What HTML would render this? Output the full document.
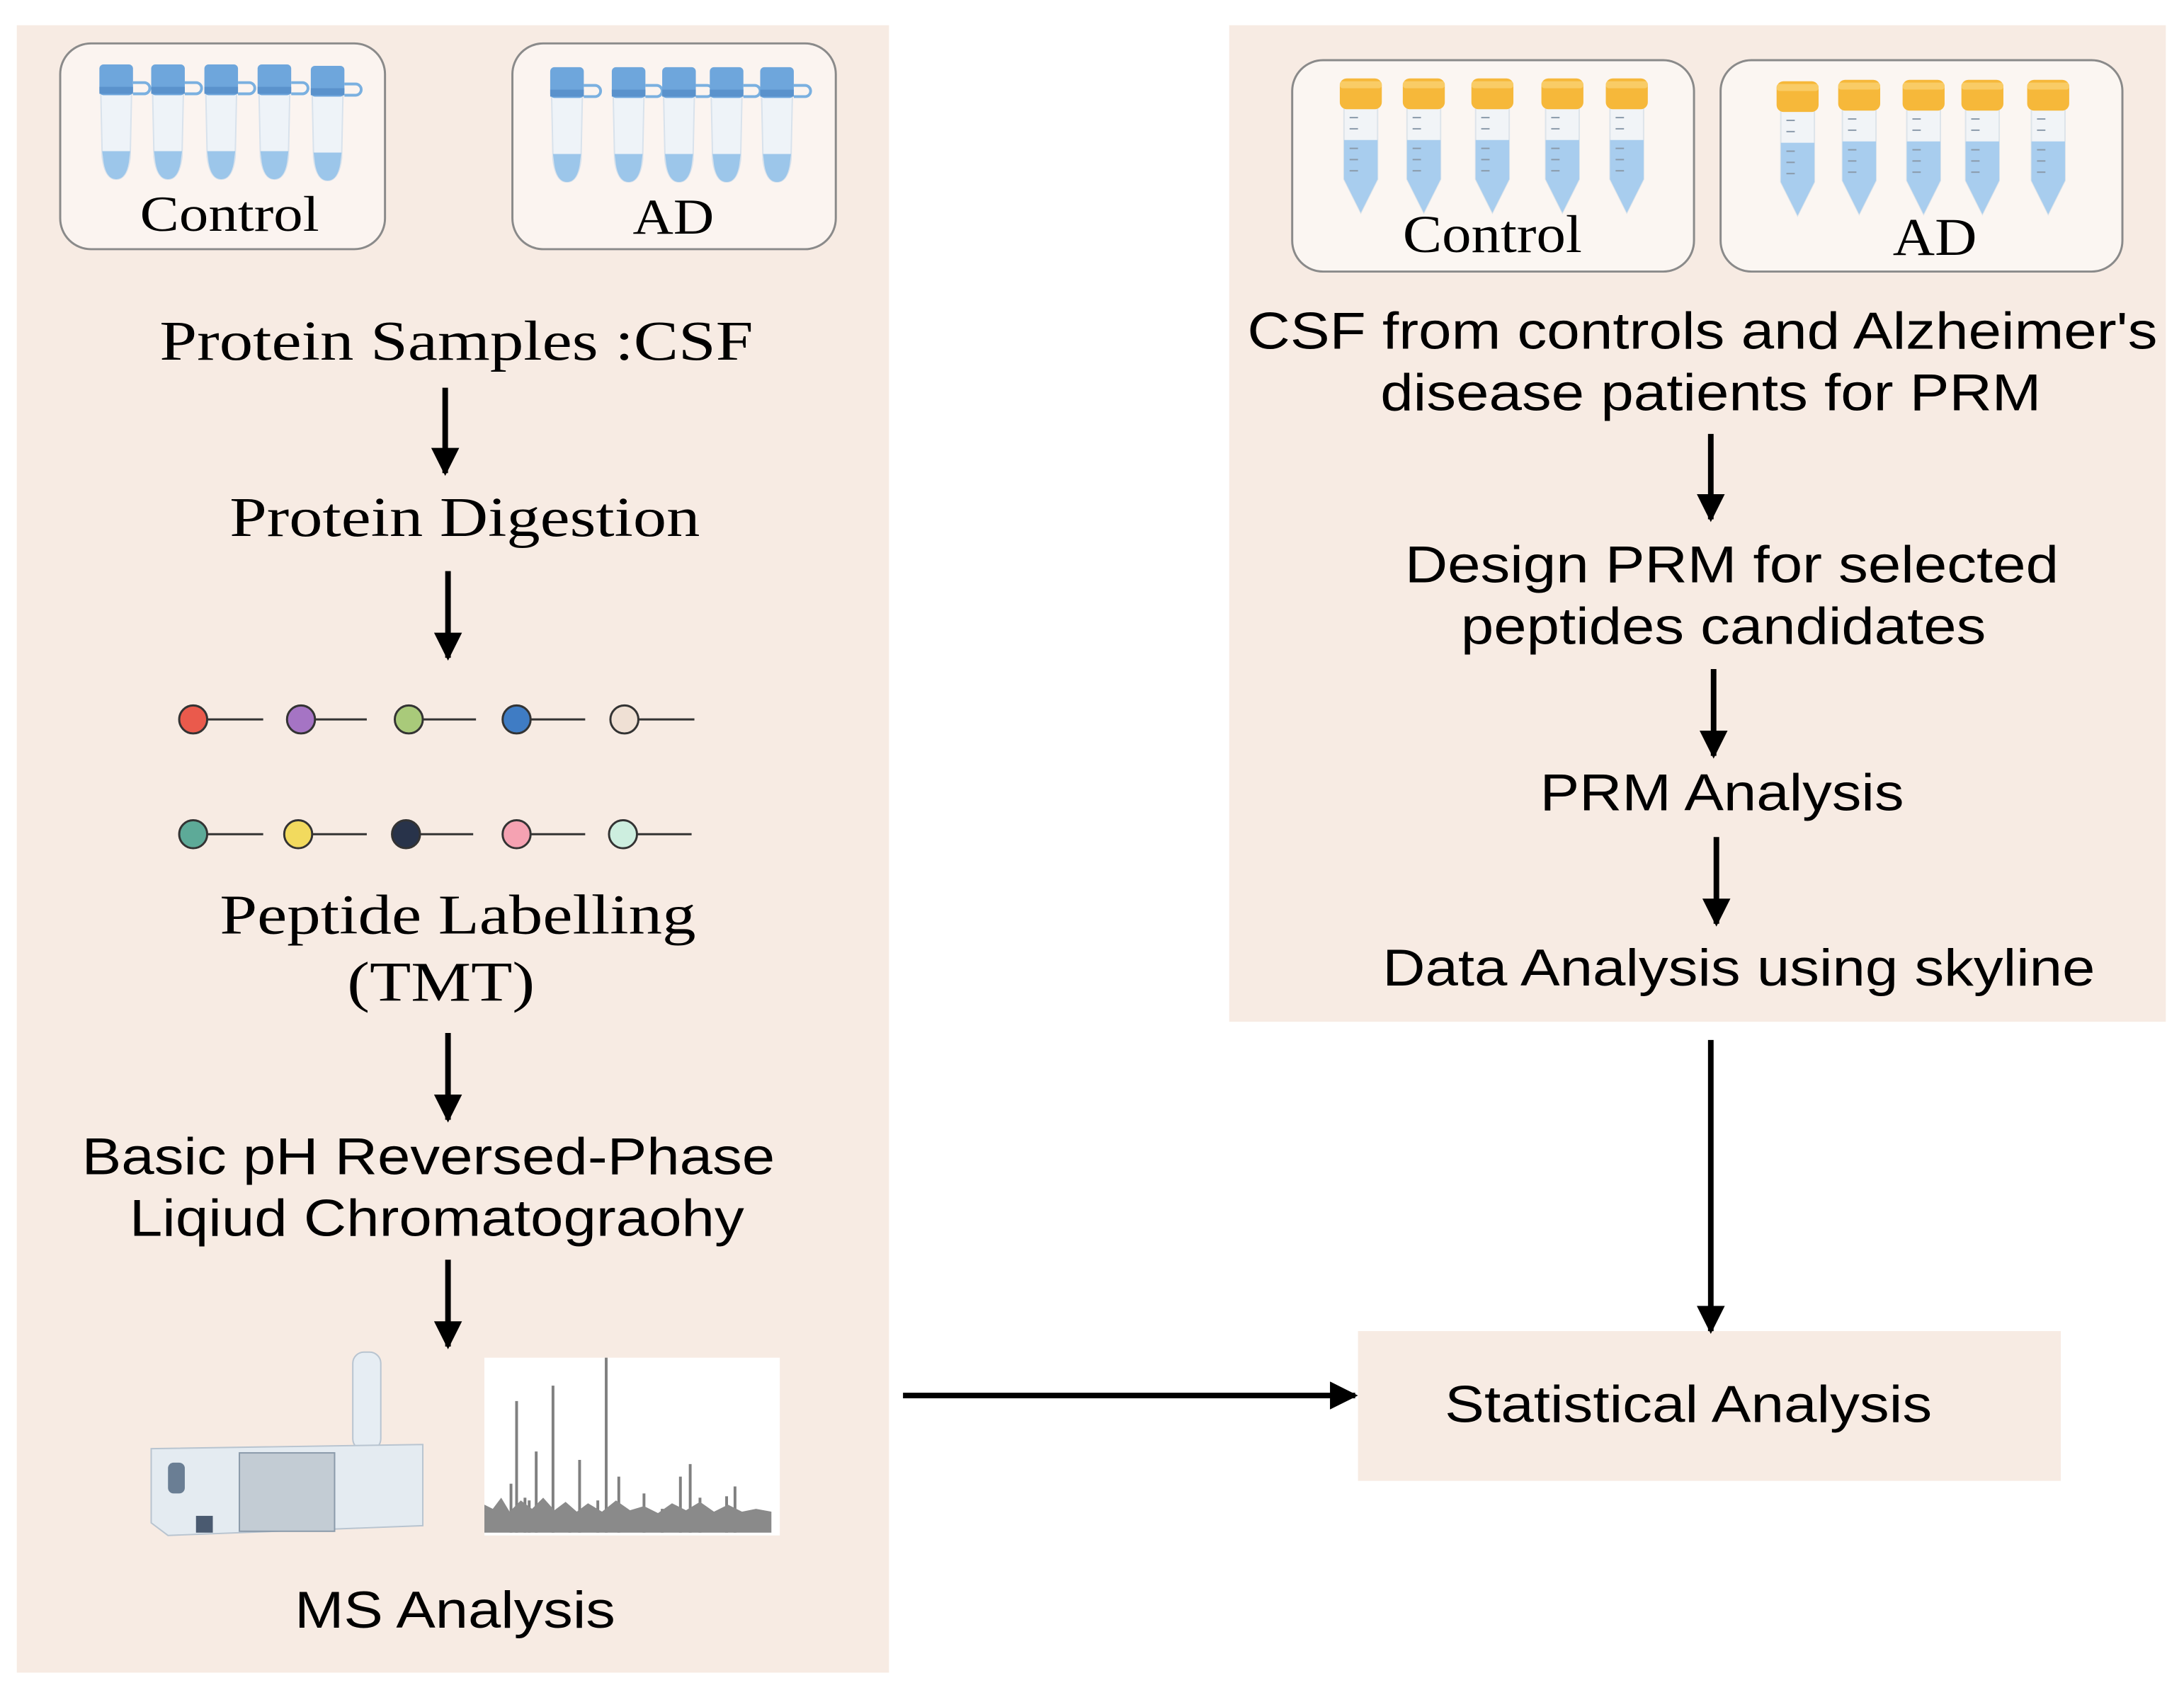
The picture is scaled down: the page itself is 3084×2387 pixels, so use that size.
<!DOCTYPE html>
<html><head><meta charset="utf-8"><style>
html,body{margin:0;padding:0;background:#fff;}
svg{display:block;}
.s{font-family:"Liberation Serif",serif;fill:#000;}
.a{font-family:"Liberation Sans",sans-serif;fill:#000;}
</style></head><body>
<svg width="3084" height="2387" viewBox="0 0 1560 1207.4" xmlns="http://www.w3.org/2000/svg">
<defs>
<marker id="ah" viewBox="0 0 10 10" refX="9" refY="5" markerWidth="5" markerHeight="5" orient="auto" markerUnits="strokeWidth">
<path d="M0,0 L10,5 L0,10 z" fill="#000"/></marker>
<g id="tube">
<path d="M-11,20 L11,20 L10,66 Q8,82 0,82 Q-8,82 -10,66 Z" fill="#eef3f8" stroke="#d8e2ec" stroke-width="1"/>
<path d="M-10,62 L10,62 L9,70 Q7,82 0,82 Q-7,82 -9,70 Z" fill="#9cc6ea"/>
<rect x="-12" y="0" width="24" height="22" rx="3" fill="#6ea6dc"/>
<rect x="-12" y="16" width="24" height="5" fill="#5a92cc"/>
<path d="M12,13 h8 a4,4 0 0 1 0,8 h-8" fill="none" stroke="#7ab0e0" stroke-width="2"/>
</g>
<g id="falcon">
<path d="M-12,20 L12,20 L12,72 L0,96 L-12,72 Z" fill="#f1f4f7" stroke="#dde4ea" stroke-width="1"/>
<path d="M-12,44 L12,44 L12,72 L0,96 L-12,72 Z" fill="#a8cdee"/>
<rect x="-15" y="0" width="30" height="22" rx="5" fill="#f6b83a"/>
<rect x="-15" y="2" width="30" height="5" rx="2" fill="#f9cc66"/>
<g stroke="#8a9aaa" stroke-width="1"><line x1="-8" y1="28" x2="-2" y2="28"/><line x1="-8" y1="36" x2="-2" y2="36"/><line x1="-8" y1="50" x2="-2" y2="50"/><line x1="-8" y1="58" x2="-2" y2="58"/><line x1="-8" y1="66" x2="-2" y2="66"/></g>
</g>
</defs>
<rect width="1560" height="1207.4" fill="#fff"/>
<rect x="12" y="18" width="623" height="1177" fill="#f7ebe3"/>
<rect x="878" y="18" width="669" height="712" fill="#f7ebe3"/>
<rect x="970" y="951" width="502" height="107" fill="#f7ebe3"/>

<rect x="43" y="31" width="232" height="147" rx="22" fill="#fbf4f0" stroke="#8a8a8a" stroke-width="1.5"/>
<rect x="366" y="31" width="231" height="147" rx="22" fill="#fbf4f0" stroke="#8a8a8a" stroke-width="1.5"/>
<use href="#tube" x="83" y="46"/><use href="#tube" x="120" y="46"/><use href="#tube" x="158" y="46"/><use href="#tube" x="196" y="46"/><use href="#tube" x="234" y="47"/>
<use href="#tube" x="405" y="48"/><use href="#tube" x="449" y="48"/><use href="#tube" x="485" y="48"/><use href="#tube" x="519" y="48"/><use href="#tube" x="555" y="48"/>
<text class="s" x="164" y="165" font-size="36" text-anchor="middle" textLength="128" lengthAdjust="spacingAndGlyphs">Control</text>
<text class="s" x="481" y="167" font-size="36" text-anchor="middle" textLength="58" lengthAdjust="spacingAndGlyphs">AD</text>

<rect x="923" y="43" width="287" height="151" rx="22" fill="#fbf6f2" stroke="#8a8a8a" stroke-width="1.5"/>
<rect x="1229" y="43" width="287" height="151" rx="22" fill="#fbf6f2" stroke="#8a8a8a" stroke-width="1.5"/>
<use href="#falcon" x="972" y="56"/><use href="#falcon" x="1017" y="56"/><use href="#falcon" x="1066" y="56"/><use href="#falcon" x="1116" y="56"/><use href="#falcon" x="1162" y="56"/>
<use href="#falcon" x="1284" y="58"/><use href="#falcon" x="1328" y="57"/><use href="#falcon" x="1374" y="57"/><use href="#falcon" x="1416" y="57"/><use href="#falcon" x="1463" y="57"/>
<text class="s" x="1066" y="180" font-size="38" text-anchor="middle" textLength="128" lengthAdjust="spacingAndGlyphs">Control</text>
<text class="s" x="1382" y="182" font-size="38" text-anchor="middle" textLength="60" lengthAdjust="spacingAndGlyphs">AD</text>

<text class="s" x="326" y="257" font-size="40" text-anchor="middle" textLength="424" lengthAdjust="spacingAndGlyphs">Protein Samples :CSF</text>
<text class="s" x="332" y="383" font-size="40" text-anchor="middle" textLength="336" lengthAdjust="spacingAndGlyphs">Protein Digestion</text>
<text class="s" x="327" y="667" font-size="40" text-anchor="middle" textLength="340" lengthAdjust="spacingAndGlyphs">Peptide Labelling</text>
<text class="s" x="315" y="715" font-size="40" text-anchor="middle" textLength="134" lengthAdjust="spacingAndGlyphs">(TMT)</text>
<text class="a" x="306" y="839" font-size="37" text-anchor="middle" textLength="495" lengthAdjust="spacingAndGlyphs">Basic pH Reversed-Phase</text>
<text class="a" x="312" y="883" font-size="37" text-anchor="middle" textLength="439" lengthAdjust="spacingAndGlyphs">Liqiud Chromatograohy</text>
<text class="a" x="325" y="1163" font-size="37" text-anchor="middle" textLength="229" lengthAdjust="spacingAndGlyphs">MS Analysis</text>

<text class="a" x="1216" y="249" font-size="37" text-anchor="middle" textLength="650" lengthAdjust="spacingAndGlyphs">CSF from controls and Alzheimer's</text>
<text class="a" x="1222" y="293" font-size="37" text-anchor="middle" textLength="472" lengthAdjust="spacingAndGlyphs">disease patients for PRM</text>
<text class="a" x="1237" y="416" font-size="37" text-anchor="middle" textLength="467" lengthAdjust="spacingAndGlyphs">Design PRM for selected</text>
<text class="a" x="1231" y="460" font-size="37" text-anchor="middle" textLength="375" lengthAdjust="spacingAndGlyphs">peptides candidates</text>
<text class="a" x="1230" y="579" font-size="37" text-anchor="middle" textLength="260" lengthAdjust="spacingAndGlyphs">PRM Analysis</text>
<text class="a" x="1242" y="704" font-size="37" text-anchor="middle" textLength="509" lengthAdjust="spacingAndGlyphs">Data Analysis using skyline</text>
<text class="a" x="1206" y="1016" font-size="37" text-anchor="middle" textLength="348" lengthAdjust="spacingAndGlyphs">Statistical Analysis</text>

<g stroke="#000" stroke-width="4" fill="none" marker-end="url(#ah)">
<line x1="318" y1="277" x2="318" y2="338"/>
<line x1="320" y1="408" x2="320" y2="470"/>
<line x1="320" y1="738" x2="320" y2="800"/>
<line x1="320" y1="900" x2="320" y2="962"/>
<line x1="1222" y1="310" x2="1222" y2="371"/>
<line x1="1224" y1="478" x2="1224" y2="540"/>
<line x1="1226" y1="598" x2="1226" y2="660"/>
<line x1="1222" y1="743" x2="1222" y2="951"/>
<line x1="645" y1="997" x2="968" y2="997"/>
</g>

<g stroke="#333" stroke-width="1.5">
<line x1="148" y1="514" x2="188" y2="514"/><line x1="225" y1="514" x2="262" y2="514"/><line x1="302" y1="514" x2="340" y2="514"/><line x1="379" y1="514" x2="418" y2="514"/><line x1="456" y1="514" x2="496" y2="514"/>
<line x1="148" y1="596" x2="188" y2="596"/><line x1="223" y1="596" x2="262" y2="596"/><line x1="300" y1="596" x2="338" y2="596"/><line x1="379" y1="596" x2="418" y2="596"/><line x1="455" y1="596" x2="494" y2="596"/>
<circle cx="138" cy="514" r="10" fill="#ea5a4c"/><circle cx="215" cy="514" r="10" fill="#a574c4"/><circle cx="292" cy="514" r="10" fill="#a9ca7a"/><circle cx="369" cy="514" r="10" fill="#3f7cc4"/><circle cx="446" cy="514" r="10" fill="#efe0d4"/>
<circle cx="138" cy="596" r="10" fill="#5daa98"/><circle cx="213" cy="596" r="10" fill="#f2da5e"/><circle cx="290" cy="596" r="10" fill="#28334a"/><circle cx="369" cy="596" r="10" fill="#f5a2b2"/><circle cx="445" cy="596" r="10" fill="#cdeedf"/>
</g>

<rect x="252" y="966" width="20" height="70" rx="8" fill="#e6edf3" stroke="#b8c4d0"/>
<path d="M108,1035 L302,1032 L302,1090 L120,1097 L108,1088 Z" fill="#e4ebf1" stroke="#b8c4d0"/>
<rect x="171" y="1038" width="68" height="56" fill="#c3ccd4" stroke="#8a9aaa"/>
<rect x="120" y="1045" width="12" height="22" rx="4" fill="#6a7e94"/>
<rect x="140" y="1083" width="12" height="12" fill="#4a5a70"/>

<rect x="346" y="970" width="211" height="127" fill="#fff"/>
<g stroke="#808080" stroke-width="2">
<line x1="369" y1="1095" x2="369" y2="1001"/><line x1="383" y1="1095" x2="383" y2="1037"/><line x1="395" y1="1095" x2="395" y2="990"/><line x1="414" y1="1095" x2="414" y2="1043"/><line x1="433" y1="1095" x2="433" y2="970"/><line x1="442" y1="1095" x2="442" y2="1055"/><line x1="460" y1="1095" x2="460" y2="1067"/><line x1="486" y1="1095" x2="486" y2="1055"/><line x1="493" y1="1095" x2="493" y2="1046"/><line x1="500" y1="1095" x2="500" y2="1070"/><line x1="519" y1="1095" x2="519" y2="1069"/><line x1="525" y1="1095" x2="525" y2="1062"/><line x1="365" y1="1095" x2="365" y2="1060"/><line x1="375" y1="1095" x2="375" y2="1070"/><line x1="378" y1="1095" x2="378" y2="1072"/><line x1="407" y1="1095" x2="407" y2="1077"/><line x1="427" y1="1095" x2="427" y2="1072"/><line x1="473" y1="1095" x2="473" y2="1078"/>
</g>
<path d="M346,1095 L346,1075 L352,1078 L358,1070 L364,1080 L372,1072 L380,1078 L388,1070 L396,1079 L404,1073 L412,1080 L420,1074 L430,1080 L440,1072 L450,1079 L460,1076 L470,1081 L480,1074 L490,1079 L500,1073 L510,1080 L520,1075 L530,1080 L540,1078 L551,1080 L551,1095 Z" fill="#8a8a8a"/>
</svg>
</body></html>
